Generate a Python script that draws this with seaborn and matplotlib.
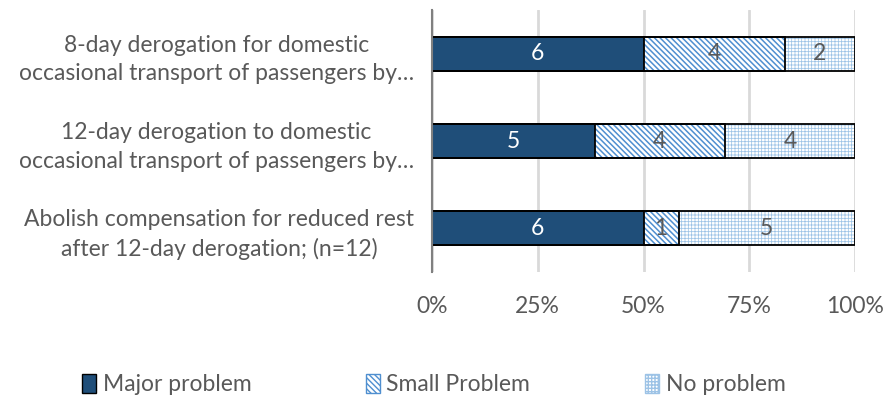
import matplotlib
matplotlib.use("Agg")
import matplotlib.pyplot as plt
import matplotlib.patches as mpatches
import numpy as np
import pandas as pd
import seaborn as sns

# Survey answers per proposal
categories = [
    "8-day derogation for domestic\noccasional transport of passengers by…",
    "12-day derogation to domestic\noccasional transport of passengers by…",
    "Abolish compensation for reduced rest\nafter 12-day derogation; (n=12)",
]
major = [6, 5, 6]
small = [4, 4, 1]
none_ = [2, 4, 5]
series_names = ["Major problem", "Small Problem", "No problem"]
tick_labels = ["0%", "25%", "50%", "75%", "100%"]

sns.set_theme(style="white")
plt.rcParams["font.family"] = ["Lato", "DejaVu Sans"]

TEXT = "#595959"
DARK = "#1F4E79"
HATCH = "#4F8FD0"
GRID_HATCH = "#9DC3E6"
FS = 16.5

DIAG = "\\" * 6
GRID = "+" * 5
DIAG_LW = 1.1
GRID_LW = 0.55

counts = np.array([major, small, none_], dtype=float)
totals = counts.sum(axis=0)
shares = counts / totals
cum = np.cumsum(shares, axis=0)

df = pd.DataFrame({
    "cat": categories,
    "major": cum[0],
    "major_small": cum[1],
    "all": cum[2],
})

fig = plt.figure(figsize=(8.85, 4.01), dpi=100)
ax = fig.add_axes([432 / 885, 1 - 272 / 401, 423 / 885, 262 / 401])

bw = 0.39
# cumulative layers, drawn from the full bar down to the first segment
with plt.rc_context({"hatch.linewidth": GRID_LW}):
    sns.barplot(data=df, x="all", y="cat", orient="h", color="white", width=bw,
                edgecolor=GRID_HATCH, linewidth=0, hatch=GRID, saturation=1, ax=ax)
with plt.rc_context({"hatch.linewidth": DIAG_LW}):
    sns.barplot(data=df, x="major_small", y="cat", orient="h", color="white", width=bw,
                edgecolor=HATCH, linewidth=0, hatch=DIAG, saturation=1, ax=ax)
sns.barplot(data=df, x="major", y="cat", orient="h", color=DARK, width=bw,
            linewidth=0, saturation=1, ax=ax)
# segment outlines
for col in ["all", "major_small", "major"]:
    sns.barplot(data=df, x=col, y="cat", orient="h", fill=False, width=bw,
                edgecolor="black", linewidth=1.3, saturation=1, ax=ax)

# value labels in each segment
starts = np.vstack([np.zeros(len(categories)), cum[:-1]])
for s in range(3):
    for i in range(len(categories)):
        xc = starts[s, i] + shares[s, i] / 2
        ax.text(xc, i, f"{int(counts[s, i])}", ha="center", va="center",
                fontsize=FS, color="white" if s == 0 else TEXT)

ax.set_xlim(0, 1)
ax.set_ylim(2.5, -0.5)
ax.set_xticks(np.linspace(0, 1, 5))
ax.set_xticklabels(tick_labels)
ax.set_xlabel("")
ax.set_ylabel("")
ax.tick_params(axis="x", length=0, pad=17, labelsize=FS, labelcolor=TEXT)
ax.tick_params(axis="y", length=0, pad=13, labelsize=FS, labelcolor=TEXT)
for lab in ax.get_yticklabels():
    lab.set_multialignment("center")
    lab.set_linespacing(1.45)

ax.xaxis.grid(True, color="#D9D9D9", linewidth=2)
ax.set_axisbelow(True)
for side in ["top", "right", "bottom"]:
    ax.spines[side].set_visible(False)
ax.spines["left"].set_color("#808080")
ax.spines["left"].set_linewidth(1.5)

h_major = mpatches.Patch(facecolor=DARK, edgecolor="black", linewidth=1, label=series_names[0])
with plt.rc_context({"hatch.linewidth": DIAG_LW}):
    h_small = mpatches.Patch(facecolor="white", edgecolor=HATCH, hatch=DIAG, linewidth=1,
                             label=series_names[1])
with plt.rc_context({"hatch.linewidth": GRID_LW}):
    h_none = mpatches.Patch(facecolor="white", edgecolor=GRID_HATCH, hatch=GRID, linewidth=1,
                            label=series_names[2])
leg = fig.legend(handles=[h_major, h_small, h_none], loc="center",
                 bbox_to_anchor=(0.49, 0.04), ncol=3, frameon=False, fontsize=FS,
                 labelcolor=TEXT, handlelength=0.6, handleheight=0.85,
                 handletextpad=0.3, columnspacing=5.0)

fig.savefig("out.png", dpi=100)
